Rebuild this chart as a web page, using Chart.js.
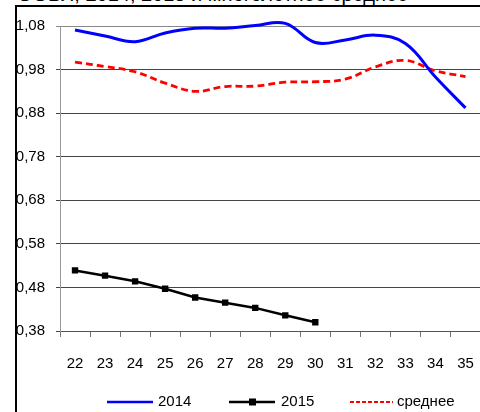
<!DOCTYPE html>
<html>
<head>
<meta charset="utf-8">
<script src="https://cdn.jsdelivr.net/npm/chart.js@4"></script>
<style>
  html, body { margin: 0; padding: 0; background: #fff; overflow: hidden; }
  #wrap { position: relative; width: 480px; height: 412px; overflow: hidden; }
  #title { position: absolute; left: 17px; top: -17px; font: 20px 'Liberation Sans', Arial, sans-serif; color: #000; white-space: nowrap; }
  #frame { position: absolute; left: 15px; top: 5px; width: 600px; height: 600px; border-left: 2.5px solid #000; border-top: 2.5px solid #000; }
  canvas { position: absolute; left: 0; top: 0; }
</style>
</head>
<body>
<div id="wrap">
  <div id="title">ООВЛ, 2014, 2015 и многолетнее среднее</div>
  <div id="frame"></div>
  <canvas id="chart" width="485" height="412"></canvas>
</div>
<script>
// недели
const weeks  = ['22', '23', '24', '25', '26', '27', '28', '29', '30', '31', '32', '33', '34', '35'];
const y2014  = [1.071, 1.057, 1.044, 1.064, 1.075, 1.075, 1.081, 1.086, 1.042, 1.048, 1.059, 1.040, 0.963, 0.892];
const y2015  = [0.519, 0.507, 0.494, 0.477, 0.457, 0.445, 0.433, 0.416, 0.400, null, null, null, null, null];
const yAvg   = [0.997, 0.987, 0.975, 0.949, 0.930, 0.941, 0.942, 0.951, 0.952, 0.958, 0.986, 1.001, 0.977, 0.964];
const yTicks = [0.38, 0.48, 0.58, 0.68, 0.78, 0.88, 0.98, 1.08];
const names  = ['2014', '2015', 'среднее'];

const FONT = "'Liberation Sans Narrow', 'Arial Narrow', 'Liberation Sans', Arial, sans-serif";

// легенда внизу, рисуем сами
const legendPlugin = {
  id: 'bottomLegend',
  afterDraw(chart) {
    const c = chart.ctx;
    const y = 402;
    c.save();
    c.font = `15px ${FONT}`;
    c.fillStyle = '#000';
    c.textBaseline = 'middle';
    // 2014
    c.strokeStyle = '#0000ff'; c.lineWidth = 2.5; c.setLineDash([]);
    c.beginPath(); c.moveTo(107, y); c.lineTo(153, y); c.stroke();
    c.fillText(names[0], 158, y);
    // 2015
    c.strokeStyle = '#000'; c.lineWidth = 2.5;
    c.beginPath(); c.moveTo(229, y); c.lineTo(275, y); c.stroke();
    c.fillRect(249, y - 3.5, 7, 7);
    c.fillText(names[1], 281, y);
    // среднее
    c.strokeStyle = '#ff0000'; c.lineWidth = 2; c.setLineDash([4, 2]);
    c.beginPath(); c.moveTo(350, y); c.lineTo(393, y); c.stroke();
    c.setLineDash([]);
    c.fillText(names[2], 397, y);
    c.restore();
  }
};

new Chart(document.getElementById('chart'), {
  type: 'line',
  data: {
    labels: weeks,
    datasets: [
      { label: names[0], data: y2014, borderColor: '#0000ff', borderWidth: 3, tension: 0.4, pointRadius: 0, clip: false },
      { label: names[1], data: y2015, borderColor: '#000', backgroundColor: '#000', borderWidth: 2.5, tension: 0,
        pointStyle: 'rect', pointRadius: 4.5, pointBorderWidth: 0, spanGaps: false },
      { label: names[2], data: yAvg, borderColor: '#ff0000', borderWidth: 2.8, borderDash: [7, 4], tension: 0.4, pointRadius: 0, clip: false },
    ]
  },
  options: {
    responsive: false,
    animation: false,
    layout: { padding: { top: 26, left: 0, right: 0, bottom: 0 } },
    plugins: { legend: { display: false }, tooltip: { enabled: false }, title: { display: false } },
    scales: {
      x: {
        offset: true,
        grid: { offset: true, drawOnChartArea: false, drawTicks: true, tickLength: 6, color: '#777' },
        border: { display: true, color: '#555', width: 1 },
        ticks: { color: '#000', font: { family: FONT, size: 15 }, padding: 18, maxRotation: 0 },
        afterFit: s => { s.height = 81; s.paddingLeft = 0; s.paddingRight = 0; },
      },
      y: {
        min: 0.38, max: 1.08,
        afterBuildTicks: s => { s.ticks = yTicks.map(v => ({ value: v })); },
        grid: { color: ctx => ctx.tick && ctx.tick.value === 1.08 ? '#888' : '#444', lineWidth: 1, tickLength: 4 },
        border: { display: true, color: '#999', width: 1 },
        ticks: { color: '#000', font: { family: FONT, size: 15 }, padding: 11,
                 callback: v => v.toFixed(2).replace('.', ',') },
        afterFit: s => { s.width = 60; s.paddingTop = 0; s.paddingBottom = 0; },
      }
    }
  },
  plugins: [legendPlugin]
});
</script>
</body>
</html>
